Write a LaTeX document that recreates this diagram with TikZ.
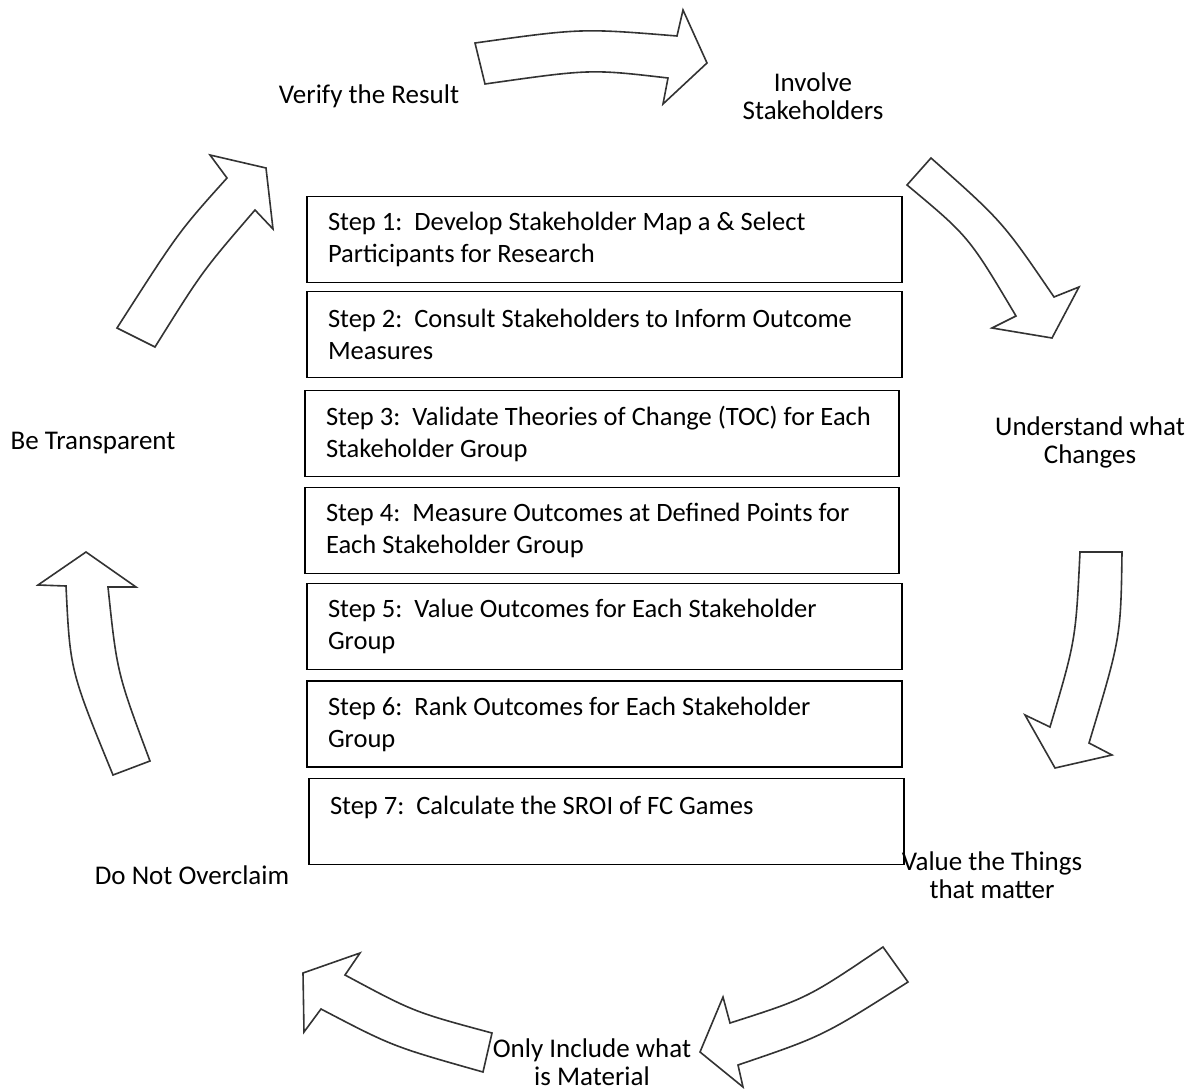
\documentclass[tikz,border=0pt]{standalone}
\usepackage{fontspec}
\setmainfont{Carlito}
\begin{document}
\begin{tikzpicture}[x=1pt,y=-1pt,
  stepbox/.style={draw=black,line width=1.4pt,align=flush left,inner xsep=21pt,inner ysep=4pt,
    text width=553pt,minimum height=86pt,font=\fontsize{26.5}{32}\selectfont,anchor=center},
  lbl/.style={align=center,inner sep=0pt,font=\fontsize{27}{28}\selectfont},
  barrow/.style={draw=black!80,line width=1.6pt,fill=white,line join=miter}]
\useasboundingbox (0,0) rectangle (1194,1089);

% curved block arrows
\draw[barrow] (475,43) -- (485,84) .. controls (590.5,69) .. (668,78) -- (663,104) -- (707,63) -- (683,10) -- (677,36) .. controls (581.3,28.2) .. (475,43) -- cycle;
\draw[barrow] (907,185) -- (931,158) .. controls (1002.5,221.5) .. (1054,297) -- (1079,287) -- (1052,338) -- (992,328) -- (1016,316) .. controls (968.8,236.5) .. (907,185) -- cycle;
\draw[barrow] (1080,552) -- (1122,552) .. controls (1120.8,637.5) .. (1089,743) -- (1112,755) -- (1055,768) -- (1025,715) -- (1050,727) .. controls (1075.7,640.2) .. (1080,552) -- cycle;
\draw[barrow] (883,947) -- (908,982) .. controls (823,1036.1) .. (738,1065) -- (743,1087) -- (700,1052) -- (723,997) -- (730,1023) .. controls (807.2,998.3) .. (883,947) -- cycle;
\draw[barrow] (492,1033) -- (483,1072) .. controls (392.7,1046.5) .. (321,1009) -- (304,1032) -- (303,973) -- (360,953) -- (345,975) .. controls (413.9,1012) .. (492,1033) -- cycle;
\draw[barrow] (113,775) -- (150,761) .. controls (117,672.7) .. (108,587) -- (136,587) -- (86,552) -- (38,585) -- (66,586) .. controls (70.1,670.5) .. (113,775) -- cycle;
\draw[barrow] (117,328) -- (155,347) .. controls (202.3,271.2) .. (255,210) -- (273,229) -- (266,168) -- (210,155) -- (227,178) .. controls (178.7,231.7) .. (117,328) -- cycle;

% step boxes
\node[stepbox,minimum width=595pt] (s1) at (604.5,239.5) {\mbox{Step 1:\ \ Develop Stakeholder Map a \& Select}\\\mbox{Participants for Research}};
\node[stepbox,minimum width=595pt] (s2) at (604.5,334.5) {\mbox{Step 2:\ \ Consult Stakeholders to Inform Outcome}\\\mbox{Measures}};
\node[stepbox,minimum width=594pt,text width=552pt] (s3) at (602,433.5) {\mbox{Step 3:\ \ Validate Theories of Change (TOC) for Each}\\\mbox{Stakeholder Group}};
\node[stepbox,minimum width=594pt,text width=552pt] (s4) at (602,530.5) {\mbox{Step 4:\ \ Measure Outcomes at Defined Points for}\\\mbox{Each Stakeholder Group}};
\node[stepbox,minimum width=595pt] (s5) at (604.5,626.5) {\mbox{Step 5:\ \ Value Outcomes for Each Stakeholder}\\\mbox{Group}};
\node[stepbox,minimum width=595pt] (s6) at (604.5,724) {\mbox{Step 6:\ \ Rank Outcomes for Each Stakeholder}\\\mbox{Group}};
\node[stepbox,minimum width=595pt] (s7) at (606.5,821.5) {\mbox{Step 7:\ \ Calculate the SROI of FC Games}\\\mbox{}};

% principle labels
\node[lbl] (verify) at (369,96) {Verify the Result};
\node[lbl] (involve) at (813,96) {Involve\\Stakeholders};
\node[lbl] (understand) at (1090,442) {Understand what\\Changes};
\node[lbl] (value) at (992,875) {Value the Things\\that matter};
\node[lbl] (material) at (592,1062) {Only Include what\\is Material};
\node[lbl] (overclaim) at (192,875) {Do Not Overclaim};
\node[lbl] (transparent) at (93,443) {Be Transparent};
\end{tikzpicture}
\end{document}
